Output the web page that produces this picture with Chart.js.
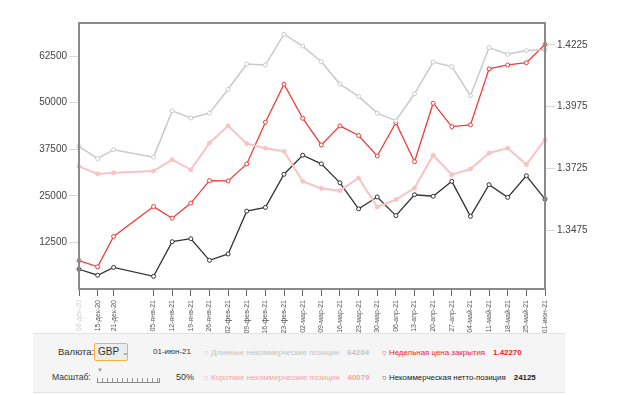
<!DOCTYPE html>
<html>
<head>
<meta charset="utf-8">
<script src="https://cdn.jsdelivr.net/npm/chart.js@4"></script>
<style>
  body { margin: 0; width: 620px; height: 395px; background: #fff; font-family: "Liberation Sans", Arial, sans-serif; position: relative; overflow: hidden; }
  #wrap { position: absolute; left: 0; top: 0; width: 620px; height: 333px; }
  #panel { position: absolute; left: 33px; top: 333px; width: 532px; height: 58px; background: #f5f5f5; border-top: 1px solid #e2e2e2; border-bottom: 1px solid #e2e2e2; font-size: 9.5px; color: #333; }
  #panel div { position: absolute; white-space: nowrap; }
  .sel { left: 61px; top: 9px; width: 29px; height: 16px; border: 1px solid #f0b440; border-radius: 2px; background: #ececec; line-height: 16px; padding-left: 3px; box-sizing: content-box; font-size: 10px; }
  .lg { font-size: 7.9px; }
  .lg b { margin-left: 8px; }
  .ruler { left: 64px; top: 44px; width: 61px; height: 4px; border-bottom: 1px solid #888; border-left: 1px solid #888; border-right: 1px solid #888;
    background: repeating-linear-gradient(90deg, transparent 0 4px, #999 4px 5px); background-size: 5px 4px; }
</style>
</head>
<body>
<div id="wrap"><canvas id="chart" width="620" height="333"></canvas></div>
<div id="panel">
  <div style="left:25px;top:12px;">Валюта:</div>
  <div class="sel">GBP <span style="font-size:8px;color:#777">&#8964;</span></div>
  <div style="left:120px;top:13px;font-size:8px;">01-июн-21</div>
  <div class="lg" style="left:171px;top:14px;color:#c4c4c4;">&#9675; Длинные некоммерческие позиции<b>64204</b></div>
  <div class="lg" style="left:349px;top:14px;color:#f0242c;">&#9675; Недельная цена закрытия<b>1.42270</b></div>
  <div style="left:19px;top:38px;font-size:8.5px;">Масштаб:</div>
  <div style="left:64px;top:33px;font-size:6px;color:#999;">&#9660;</div>
  <div class="ruler"></div>
  <div style="left:143px;top:38px;font-size:9px;">50%</div>
  <div class="lg" style="left:171px;top:39px;color:#f5a3a3;">&#9675; Короткие некоммерческие позиции<b>40079</b></div>
  <div class="lg" style="left:349px;top:39px;color:#222;">&#9675; Некоммерческая нетто-позиция<b>24125</b></div>
</div>
<script>
// report dates
const dates = ['2020-12-08', '2020-12-15', '2020-12-21', '2021-01-05', '2021-01-12', '2021-01-19', '2021-01-26',
    '2021-02-02', '2021-02-09', '2021-02-16', '2021-02-23', '2021-03-02', '2021-03-09', '2021-03-16', '2021-03-23',
    '2021-03-30', '2021-04-06', '2021-04-13', '2021-04-20', '2021-04-27', '2021-05-04', '2021-05-11', '2021-05-18',
    '2021-05-25', '2021-06-01'];
const labels = ['08-дек-20', '15-дек-20', '21-дек-20', '05-янв-21', '12-янв-21', '19-янв-21', '26-янв-21',
    '02-фев-21', '09-фев-21', '16-фев-21', '23-фев-21', '02-мар-21', '09-мар-21', '16-мар-21', '23-мар-21',
    '30-мар-21', '06-апр-21', '13-апр-21', '20-апр-21', '27-апр-21', '04-май-21', '11-май-21', '18-май-21',
    '25-май-21', '01-июн-21'];

// positions
const longPos = [38300, 35000, 37400, 35400, 47800, 45900, 47200, 53600, 60400, 60100, 68400, 65200, 61000,
    55000, 51700, 47200, 45200, 52400, 60900, 59700, 51900, 64800, 63000, 64000, 64204];
const shortPos = [32900, 30900, 31200, 31700, 34700, 32000, 39200, 43800, 39000, 37800, 37000, 28900, 27000,
    26400, 29800, 22000, 24000, 27100, 35900, 30700, 32200, 36500, 37800, 33400, 40079];
const netPos = [5300, 3700, 5800, 3400, 12700, 13500, 7700, 9400, 20900, 21900, 30800, 35900, 33600,
    28500, 21500, 24700, 19700, 25300, 24900, 28900, 19500, 28000, 24600, 30400, 24125];
// weekly close GBP
const price = [1.3351, 1.3326, 1.3449, 1.3570, 1.3523, 1.3584, 1.3675, 1.3674, 1.3743, 1.3912, 1.4066, 1.3928,
    1.3820, 1.3897, 1.3858, 1.3775, 1.3910, 1.3752, 1.3989, 1.3894, 1.3901, 1.4128, 1.4144, 1.4153, 1.4227];

const leftTicks = [12500, 25000, 37500, 50000, 62500];
const rightTicks = [1.3475, 1.3725, 1.3975, 1.4225];

const t0 = Date.parse(dates[0]);
const days = dates.map(d => Math.round((Date.parse(d) - t0) / 86400000));
const pts = arr => arr.map((v, i) => ({ x: days[i], y: v }));

const line = (label, data, color, width, axis, pointFill) => ({
    label: label,
    data: pts(data),
    yAxisID: axis,
    borderColor: color,
    borderWidth: width,
    pointRadius: 2,
    pointBorderWidth: 1,
    pointBorderColor: color,
    pointBackgroundColor: pointFill,
    tension: 0,
    clip: 4
});

// box round the plot area
const frame = {
    id: 'frame',
    afterDraw(chart) {
        const a = chart.chartArea, c = chart.ctx;
        c.save();
        c.strokeStyle = '#8a8a8a';
        c.lineWidth = 2;
        c.strokeRect(a.left, a.top, a.right - a.left, a.bottom - a.top);
        c.restore();
    }
};

const ctx = document.getElementById('chart');
new Chart(ctx, {
    type: 'line',
    data: {
        datasets: [
            line('Длинные некоммерческие позиции', longPos, '#c9c9c9', 1.5, 'y', '#fff'),
            line('Короткие некоммерческие позиции', shortPos, '#f7c4c4', 2, 'y', '#f7c4c4'),
            line('Недельная цена закрытия', price, '#f23b3b', 1.3, 'y2', '#fff'),
            line('Некоммерческая нетто-позиция', netPos, '#333333', 1.3, 'y', '#fff')
        ]
    },
    options: {
        responsive: false,
        animation: false,
        layout: { padding: { top: 23, left: 0, right: 0, bottom: 0 } },
        plugins: { legend: { display: false }, tooltip: { enabled: false } },
        scales: {
            x: {
                type: 'linear',
                min: days[0],
                max: days[days.length - 1],
                afterBuildTicks: axis => { axis.ticks = days.map(v => ({ value: v })); },
                afterFit: s => { s.height = 44; },
                ticks: {
                    autoSkip: false,
                    minRotation: 90,
                    maxRotation: 90,
                    padding: 4,
                    font: { size: 7, family: 'Liberation Sans' },
                    color: c => c.index === 0 ? '#d0d0d0' : '#555',
                    callback: (v, i) => labels[i]
                },
                grid: { drawOnChartArea: false, tickLength: 7, tickColor: '#666', lineWidth: 1 },
                border: { display: false }
            },
            y: {
                position: 'left',
                min: 0,
                max: 71400,
                afterBuildTicks: axis => { axis.ticks = leftTicks.map(v => ({ value: v })); },
                afterFit: s => { s.width = 79; },
                ticks: { padding: 2, font: { size: 10, family: 'Liberation Sans' }, color: '#444', callback: v => String(v) },
                grid: { drawOnChartArea: false, tickLength: 10, tickColor: '#d8d8d8' },
                border: { display: false }
            },
            y2: {
                position: 'right',
                min: 1.3236,
                max: 1.4314,
                afterBuildTicks: axis => { axis.ticks = rightTicks.map(v => ({ value: v })); },
                afterFit: s => { s.width = 75; },
                ticks: { padding: 2, font: { size: 10, family: 'Liberation Sans' }, color: '#444', callback: v => v.toFixed(4) },
                grid: { drawOnChartArea: false, tickLength: 10, tickColor: '#d8d8d8' },
                border: { display: false }
            }
        }
    },
    plugins: [frame]
});
</script>
</body>
</html>
